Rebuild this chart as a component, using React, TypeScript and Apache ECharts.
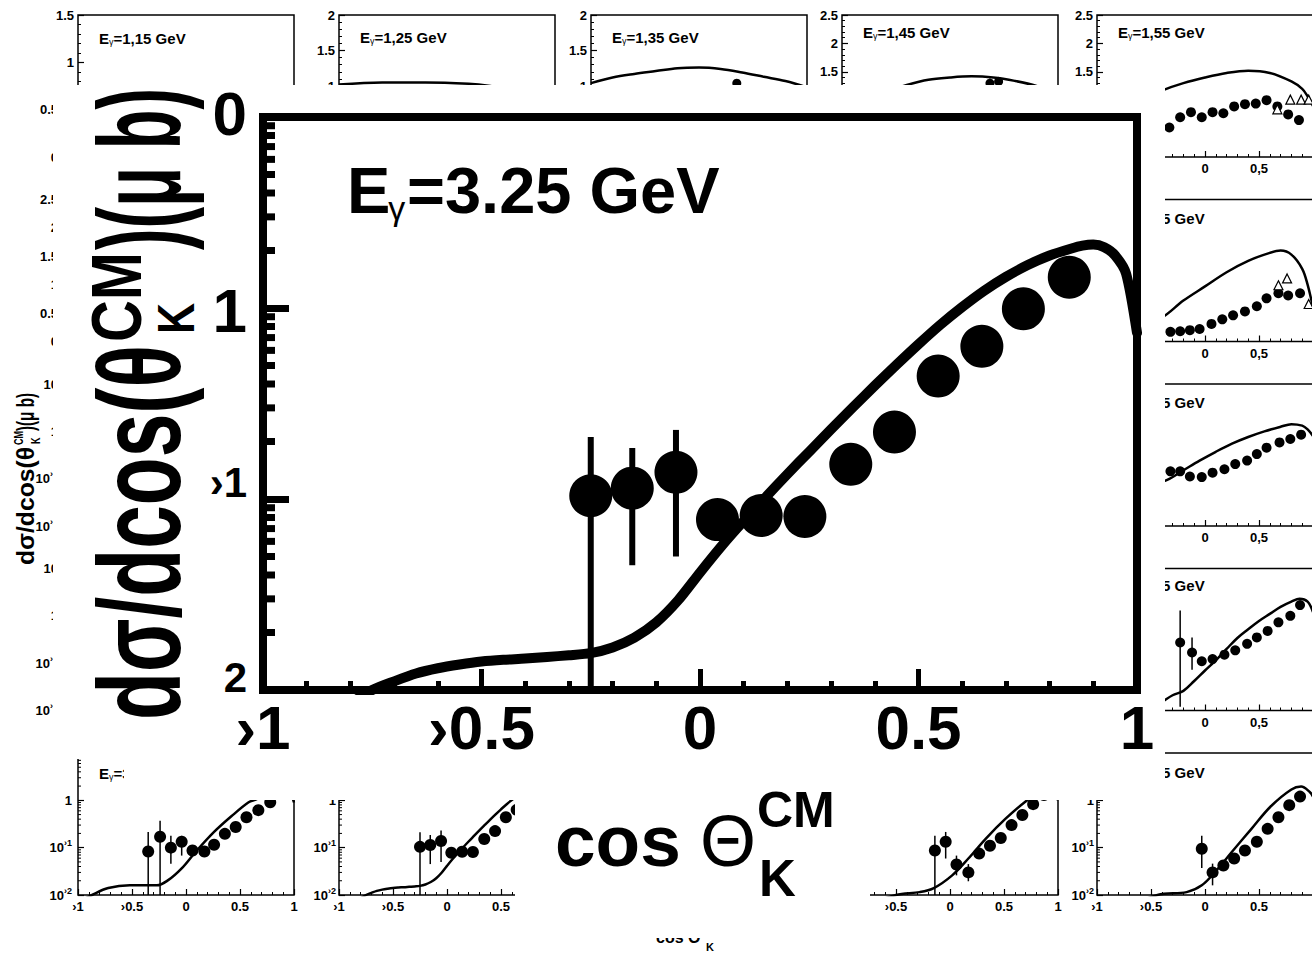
import React, { useEffect, useRef } from "react";
import * as echarts from "echarts";

const FF = "'Liberation Sans', Arial, Helvetica, sans-serif";

/* ================= Main (zoomed) panel : E_gamma = 3.25 GeV ================= */
const mainXTickLabels = ["›1", "›0.5", "0", "0.5", "1"];
const mainYTickLabels = ["2", "›1", "1", "0"]; // visible parts of labels at 0.01, 0.1, 1, 10
const mainTitle = ["E", "γ", "=3.25 GeV"];
const mainYTitle = ["dσ/dcos(θ", "CM", "K", ")(μ b)"];
const mainXTitle = ["cos", "Θ", "CM", "K"];

const mainPointCos = [-0.25, -0.155, -0.055, 0.04, 0.14, 0.24, 0.345, 0.445, 0.545, 0.645, 0.74, 0.845];
const mainPointVal = [0.104, 0.114, 0.138, 0.078, 0.082, 0.081, 0.152, 0.224, 0.44, 0.63, 0.99, 1.45];
const mainErrLow = [0.01, 0.045, 0.05, 0.062, 0.064, 0.074, 0.142, 0.212, 0.42, 0.61, 0.96, 1.41];
const mainErrHigh = [0.211, 0.185, 0.23, 0.097, 0.104, 0.089, 0.163, 0.236, 0.46, 0.65, 1.02, 1.49];

const mainCurveCos = [
  -0.8, -0.75, -0.7, -0.65, -0.6, -0.55, -0.5, -0.45, -0.4, -0.35, -0.3, -0.25, -0.2, -0.15, -0.1, -0.05,
  0, 0.05, 0.1, 0.15, 0.2, 0.25, 0.3, 0.35, 0.4, 0.45, 0.5, 0.55, 0.6, 0.65, 0.7, 0.75, 0.8, 0.85,
  0.875, 0.9, 0.925, 0.95, 0.975, 1,
];
const mainCurveVal = [
  0.0085, 0.01, 0.0111, 0.0122, 0.013, 0.0136, 0.0141, 0.0144, 0.0146, 0.0149, 0.0152, 0.0156, 0.0167, 0.0188,
  0.0226, 0.0295, 0.0412, 0.0569, 0.0767, 0.102, 0.135, 0.177, 0.232, 0.302, 0.392, 0.505, 0.646, 0.817, 1.012,
  1.23, 1.455, 1.679, 1.884, 2.05, 2.12, 2.148, 2.08, 1.884, 1.514, 0.741,
];

const logMinorTickValues = [
  0.02, 0.03, 0.04, 0.05, 0.06, 0.07, 0.08, 0.09, 0.2, 0.3, 0.4, 0.5, 0.6, 0.7, 0.8, 0.9, 2, 3, 4, 5, 6, 7, 8, 9,
];

/* ================= Background small panels ================= */
const xLabelsComma = ["›1", "›0,5", "0", "0,5", "1"];
const xLabelsDot = ["›1", "›0.5", "0", "0.5", "1"];
const linYLabels = ["0", "0.5", "1", "1.5", "2", "2.5"];
const logYBase = ["10", "10", "1", "10"];
const logYSup = ["›2", "›1", "", ""];

const curve115 = [[-1, 0.4], [-0.6, 0.52], [-0.2, 0.6], [0.2, 0.64], [0.6, 0.62], [1, 0.5]];
const curve125 = [[-1, 1.02], [-0.6, 1.05], [-0.2, 1.05], [0.2, 1.03], [0.4, 1.0], [0.6, 0.95], [0.8, 0.88], [1, 0.8]];
const curve135 = [[-1, 1.04], [-0.8, 1.12], [-0.6, 1.17], [-0.4, 1.21], [-0.2, 1.25], [0, 1.26], [0.2, 1.24], [0.4, 1.19], [0.6, 1.13], [0.8, 1.07], [1, 0.98]];
const points135 = [[0.35, 1.04]];
const err135 = [[0.35, 0.99, 1.09]];
const curve145 = [[-1, 0.9], [-0.6, 1.15], [-0.4, 1.27], [-0.2, 1.36], [0, 1.4], [0.2, 1.42], [0.4, 1.4], [0.6, 1.34], [0.8, 1.25], [1, 1.1]];
const points145 = [[0.37, 1.3], [0.45, 1.33]];
const err145 = [[0.37, 1.22, 1.38], [0.45, 1.25, 1.41]];
const curve155 = [[-1, 0.7], [-0.8, 0.85], [-0.6, 1.0], [-0.4, 1.17], [-0.2, 1.3], [0, 1.4], [0.2, 1.48], [0.4, 1.52], [0.6, 1.48], [0.8, 1.33], [0.9, 1.2], [0.95, 1.07], [1, 0.9]];
const points155 = [[-0.33, 0.52], [-0.23, 0.7], [-0.13, 0.79], [-0.03, 0.7], [0.07, 0.79], [0.17, 0.77], [0.27, 0.89], [0.37, 0.93], [0.47, 0.94], [0.57, 1.0], [0.67, 0.89], [0.77, 0.75], [0.87, 0.65]];
const opens155 = [[0.67, 0.84], [0.79, 1.01], [0.89, 1.01], [0.96, 1.01]];

const curve205 = [[-1, 0.1], [-0.6, 0.28], [-0.4, 0.42], [-0.2, 0.72], [0, 0.97], [0.2, 1.22], [0.4, 1.42], [0.6, 1.56], [0.7, 1.6], [0.8, 1.53], [0.9, 1.28], [0.95, 1.0], [1, 0.6]];
const points205 = [[-0.32, 0.17], [-0.23, 0.18], [-0.14, 0.2], [-0.05, 0.22], [0.06, 0.31], [0.16, 0.39], [0.26, 0.46], [0.37, 0.53], [0.48, 0.62], [0.57, 0.76], [0.68, 0.85], [0.77, 0.81], [0.88, 0.85]];
const opens205 = [[0.68, 0.99], [0.76, 1.11], [0.96, 0.66]];

const curve255 = [[-1, 0.02], [-0.7, 0.04], [-0.5, 0.07], [-0.35, 0.094], [-0.2, 0.15], [-0.05, 0.24], [0.1, 0.37], [0.25, 0.55], [0.4, 0.76], [0.55, 1.0], [0.7, 1.25], [0.8, 1.42], [0.9, 1.32], [0.95, 1.1], [1, 0.8]];
const points255 = [[-0.32, 0.143], [-0.23, 0.143], [-0.14, 0.111], [-0.03, 0.108], [0.07, 0.134], [0.18, 0.158], [0.28, 0.203], [0.39, 0.241], [0.48, 0.331], [0.57, 0.452], [0.69, 0.583], [0.79, 0.69], [0.89, 0.852]];

const curve305 = [[-1, 0.004], [-0.6, 0.008], [-0.4, 0.015], [-0.3, 0.021], [-0.2, 0.026], [-0.1, 0.042], [0, 0.07], [0.1, 0.115], [0.2, 0.2], [0.3, 0.34], [0.4, 0.52], [0.5, 0.78], [0.6, 1.1], [0.7, 1.55], [0.8, 2.0], [0.875, 2.3], [0.95, 2.0], [1, 1.2]];
const points305 = [[-0.23, 0.273], [-0.12, 0.168], [-0.03, 0.11], [0.07, 0.122], [0.18, 0.151], [0.28, 0.187], [0.39, 0.256], [0.48, 0.35], [0.58, 0.48], [0.68, 0.73], [0.79, 1.0], [0.88, 1.69]];
const err305 = [[-0.23, 0.012, 1.3], [-0.12, 0.073, 0.35]];

const curve315 = [[-1, 0.007], [-0.87, 0.01], [-0.72, 0.014], [-0.52, 0.016], [-0.27, 0.016], [-0.165, 0.0206], [-0.04, 0.0365], [0.09, 0.082], [0.26, 0.215], [0.42, 0.46], [0.58, 0.91], [0.65, 1.05], [0.75, 1.4], [0.85, 1.8], [0.9, 1.9], [0.95, 1.7], [1, 0.9]];
const points315 = [[-0.35, 0.083], [-0.24, 0.17], [-0.14, 0.1], [-0.04, 0.133], [0.06, 0.087], [0.17, 0.083], [0.26, 0.115], [0.36, 0.196], [0.46, 0.274], [0.56, 0.44], [0.67, 0.62], [0.78, 0.91]];
const err315 = [[-0.35, 0.01, 0.215], [-0.24, 0.01, 0.37], [-0.14, 0.046, 0.178], [-0.04, 0.068, 0.178]];

const curve345 = [[-1, 0.004], [-0.5, 0.01], [-0.28, 0.0115], [-0.15, 0.014], [0.02, 0.026], [0.17, 0.059], [0.33, 0.154], [0.51, 0.4], [0.7, 0.95], [0.85, 1.6], [0.92, 1.8], [1, 1.0]];
const points345 = [[-0.14, 0.087], [-0.04, 0.133], [0.06, 0.044], [0.17, 0.03], [0.27, 0.075], [0.37, 0.11], [0.47, 0.16], [0.57, 0.3], [0.67, 0.49], [0.77, 0.83], [0.87, 1.3]];
const err345 = [[-0.14, 0.01, 0.178], [-0.04, 0.059, 0.215], [0.06, 0.026, 0.068], [0.17, 0.0195, 0.045]];

const curve355 = [[-1, 0.003], [-0.44, 0.01], [-0.17, 0.0115], [-0.03, 0.016], [0.1, 0.032], [0.25, 0.082], [0.43, 0.25], [0.61, 0.75], [0.8, 1.7], [0.89, 1.95], [0.97, 1.5], [1, 1.2]];
const points355 = [[-0.03, 0.095], [0.07, 0.03], [0.17, 0.042], [0.27, 0.059], [0.37, 0.087], [0.48, 0.133], [0.58, 0.25], [0.68, 0.44], [0.78, 0.79], [0.88, 1.2]];
const err355 = [[-0.03, 0.037, 0.178], [0.07, 0.016, 0.046]];

const smallYTitle = ["dσ/dcos(θ", "CM", "K", ")(μ b)"];
const smallXTitle = ["cos Θ", "K"];

/* ---------- layout ---------- */
const COL_LEFT = [78, 339, 591, 842, 1097];
const rowTop = (r: number) => 15 + 184.5 * r;
const PW = 216;
const PH = 142;

const mainPairs = mainPointCos.map((c, i) => [c, mainPointVal[i]]);
const mainErrs = mainPointCos.map((c, i) => [c, mainErrLow[i], mainErrHigh[i]]);
const mainCurve = mainCurveCos.map((c, i) => [c, mainCurveVal[i]]);

// xl: show x labels; xPos: only labels >= 0; ym: y label margin; yFrom: hide y labels below
const panels: any[] = [
  { row: 0, col: 0, e: "1,15", log: false, yMax: 1.5, curve: curve115, pts: [], errs: [], opens: [], ps: 9, tdy: 23, xl: false, ym: 4, shiftLow: true, title: true },
  { row: 0, col: 1, e: "1,25", log: false, yMax: 2, curve: curve125, pts: [], errs: [], opens: [], ps: 9, tdy: 22, xl: false, ym: 4, yFrom: 1, title: true },
  { row: 0, col: 2, e: "1,35", log: false, yMax: 2, curve: curve135, pts: points135, errs: err135, opens: [], ps: 9, tdy: 22, xl: false, ym: 4, yFrom: 1, title: true },
  { row: 0, col: 3, e: "1,45", log: false, yMax: 2.5, curve: curve145, pts: points145, errs: err145, opens: [], ps: 9, tdy: 17, xl: false, ym: 4, yFrom: 1.5, title: true },
  { row: 0, col: 4, e: "1,55", log: false, yMax: 2.5, curve: curve155, pts: points155, errs: [], opens: opens155, ps: 10, tdy: 17, xl: true, xPos: true, ym: 4, yFrom: 1.5, title: true },
  { row: 1, col: 0, e: "1,65", log: false, yMax: 2.5, curve: [], pts: [], errs: [], opens: [], ps: 9, tdy: 19, xl: false, ym: 20, title: false },
  { row: 1, col: 4, e: "2,05", log: false, yMax: 2.5, curve: curve205, pts: points205, errs: [], opens: opens205, ps: 10, tdy: 19, xl: true, xPos: true, ym: 4, noY: true, title: true },
  { row: 2, col: 0, e: "2,15", log: true, curve: [], pts: [], errs: [], opens: [], ps: 9, tdy: 19, xl: false, ym: 20, title: false },
  { row: 2, col: 4, e: "2,55", log: true, curve: curve255, pts: points255, errs: [], opens: [], ps: 10, tdy: 18, xl: true, xPos: true, ym: 4, noY: true, title: true },
  { row: 3, col: 0, e: "2,65", log: true, curve: [], pts: [], errs: [], opens: [], ps: 9, tdy: 19, xl: false, ym: 20, title: false },
  { row: 3, col: 4, e: "3,05", log: true, curve: curve305, pts: points305, errs: err305, opens: [], ps: 10, tdy: 17, xl: true, xPos: true, ym: 4, noY: true, title: true },
  { row: 4, col: 0, e: "3,15", log: true, curve: curve315, pts: points315, errs: err315, opens: [], ps: 12, tdy: 20, dot: true, xl: true, ym: 6, title: true },
  { row: 4, col: 1, e: "3,25", log: true, curve: mainCurve, pts: mainPairs, errs: mainErrs, opens: [], ps: 12, tdy: 20, dot: true, xl: true, ym: 3, title: false },
  { row: 4, col: 3, e: "3,45", log: true, curve: curve345, pts: points345, errs: err345, opens: [], ps: 12, tdy: 20, dot: true, xl: true, ym: 3, title: false, noY: true },
  { row: 4, col: 4, e: "3,55", log: true, curve: curve355, pts: points355, errs: err355, opens: [], ps: 12, tdy: 19, dot: true, xl: true, ym: 3, title: true },
];

let measureCtx: any = null;
function measure(text: string, size: number, bold: boolean) {
  if (!measureCtx) measureCtx = document.createElement("canvas").getContext("2d");
  measureCtx.font = `${bold ? "bold " : ""}${size}px ${FF}`;
  return measureCtx.measureText(text).width || text.length * size * 0.55;
}

function errSeries(ai: number, data: number[][], w: number, z: number) {
  return {
    type: "custom",
    xAxisIndex: ai,
    yAxisIndex: ai,
    z,
    silent: true,
    data,
    encode: { x: 0, y: [1, 2] },
    renderItem: (_p: any, api: any) => {
      const a = api.coord([api.value(0), api.value(1)]);
      const b = api.coord([api.value(0), api.value(2)]);
      return {
        type: "line",
        shape: { x1: a[0], y1: a[1], x2: b[0], y2: b[1] },
        style: { stroke: "#000", lineWidth: w },
      };
    },
  };
}

function logMinorSeries(ai: number, len: number, w: number, z: number) {
  return {
    type: "custom",
    xAxisIndex: ai,
    yAxisIndex: ai,
    z,
    silent: true,
    data: logMinorTickValues.map((v) => [-1, v]),
    encode: { x: 0, y: 1 },
    renderItem: (_p: any, api: any) => {
      const c = api.coord([-1, api.value(1)]);
      return {
        type: "line",
        shape: { x1: c[0], y1: c[1], x2: c[0] + len, y2: c[1] },
        style: { stroke: "#000", lineWidth: w },
      };
    },
  };
}

function txt(x: number, y: number, text: string, size: number, bold: boolean, z: number, extra: any = {}) {
  return {
    type: "text",
    x,
    y,
    z,
    silent: true,
    ...extra,
    style: {
      text,
      fontSize: size,
      fontWeight: bold ? "bold" : "normal",
      fontFamily: FF,
      fill: "#000",
      align: "left",
      verticalAlign: "middle",
    },
  };
}

// rotated title: parts [main, sup, sub, tail]; u = distance along text (upwards)
function rotatedTitle(gx: number, gy: number, parts: string[], cfg: any, z: number) {
  const w1 = measure(parts[0], cfg.f1, true);
  const wS = measure(parts[1], cfg.fs, true);
  const w4 = measure(parts[3], cfg.f1, true);
  const s1 = cfg.len1 / w1;
  const sS = Math.min(1, cfg.lenS / wS);
  const s4 = cfg.len4 / w4;
  return {
    type: "group",
    x: gx,
    y: gy,
    rotation: Math.PI / 2,
    z,
    children: [
      txt(0, cfg.v1, parts[0], cfg.f1, true, z, { scaleX: s1 }),
      txt(cfg.len1 + cfg.gap, cfg.vSup, parts[1], cfg.fs, true, z, { scaleX: sS }),
      txt(cfg.len1 + cfg.gap + cfg.subDx, cfg.vSub, parts[2], cfg.fk, true, z, { scaleX: sS }),
      txt(cfg.u4, cfg.v1, parts[3], cfg.f1, true, z, { scaleX: s4 }),
    ],
  };
}

function buildOption() {
  const grid: any[] = [];
  const xAxis: any[] = [];
  const yAxis: any[] = [];
  const series: any[] = [];
  const graphic: any[] = [];

  const bgLabel = { color: "#000", fontFamily: FF, fontWeight: "bold", fontSize: 13 };
  const bgTick = { show: true, inside: true, length: 6, lineStyle: { color: "#000", width: 1.2 } };
  const bgMinor = { show: true, splitNumber: 5, length: 3, lineStyle: { color: "#000", width: 1 } };

  panels.forEach((p, i) => {
    const left = COL_LEFT[p.col];
    const top = rowTop(p.row);
    grid.push({
      left,
      top,
      width: PW,
      height: PH,
      show: true,
      borderColor: "#000",
      borderWidth: 1.5,
      backgroundColor: "transparent",
      z: 2,
      outerBoundsMode: "none",
    });
    const xl = p.dot ? xLabelsDot : xLabelsComma;
    xAxis.push({
      gridIndex: i,
      type: "value",
      min: -1,
      max: 1,
      interval: 0.5,
      z: 2,
      axisLine: { show: false, onZero: false },
      splitLine: { show: false },
      axisTick: bgTick,
      minorTick: bgMinor,
      axisLabel: {
        ...bgLabel,
        show: p.xl,
        margin: 5,
        showMinLabel: true,
        showMaxLabel: p.col !== 4,
        formatter: (v: number) => (p.xPos && v < 0 ? "" : xl[Math.round((v + 1) / 0.5)]),
      },
    });
    if (p.log) {
      yAxis.push({
        gridIndex: i,
        type: "log",
        logBase: 10,
        min: 0.01,
        max: 10,
        z: 2,
        axisLine: { show: false, onZero: false },
        splitLine: { show: false },
        axisTick: bgTick,
        minorTick: { show: false },
        axisLabel: {
          ...bgLabel,
          show: !p.noY,
          margin: p.ym,
          showMinLabel: true,
          showMaxLabel: true,
          formatter: (v: number) => {
            const k = Math.round(Math.log10(v)) + 2;
            return logYSup[k] ? `{b|${logYBase[k]}}{s|${logYSup[k]}}` : `{b|${logYBase[k]}}`;
          },
          rich: {
            b: { ...bgLabel },
            s: { ...bgLabel, fontSize: 9, padding: [0, 0, 9, 0] },
          },
        },
      });
      series.push(logMinorSeries(i, 3, 1, 3));
    } else {
      yAxis.push({
        gridIndex: i,
        type: "value",
        min: 0,
        max: p.yMax,
        interval: 0.5,
        z: 2,
        axisLine: { show: false, onZero: false },
        splitLine: { show: false },
        axisTick: bgTick,
        minorTick: bgMinor,
        axisLabel: {
          ...bgLabel,
          show: !p.noY,
          margin: p.ym,
          showMinLabel: true,
          showMaxLabel: true,
          formatter: (v: number) => {
            if (p.yFrom !== undefined && v < p.yFrom - 1e-9) return "";
            const t = linYLabels[Math.round(v / 0.5)];
            return p.shiftLow && v < 0.75 ? `{sh|${t}}` : `{n|${t}}`;
          },
          rich: {
            n: { ...bgLabel },
            sh: { ...bgLabel, padding: [0, 16, 0, 0] },
          },
        },
      });
    }
    if (p.curve.length) {
      series.push({
        type: "line",
        xAxisIndex: i,
        yAxisIndex: i,
        data: p.curve,
        symbol: "none",
        smooth: 0.35,
        clip: true,
        z: 3,
        silent: true,
        lineStyle: { color: "#000", width: 2.5 },
      });
    }
    if (p.errs.length) series.push(errSeries(i, p.errs, 1.5, 4));
    if (p.pts.length) {
      series.push({
        type: "scatter",
        xAxisIndex: i,
        yAxisIndex: i,
        data: p.pts,
        symbol: "circle",
        symbolSize: p.ps,
        z: 5,
        silent: true,
        itemStyle: { color: "#000", opacity: 1 },
      });
    }
    if (p.opens.length) {
      series.push({
        type: "scatter",
        xAxisIndex: i,
        yAxisIndex: i,
        data: p.opens,
        symbol: "triangle",
        symbolSize: 9,
        z: 6,
        silent: true,
        itemStyle: { color: "#fff", borderColor: "#000", borderWidth: 1.2, opacity: 1 },
      });
    }
    if (p.title) {
      graphic.push({
        type: "text",
        x: left + 21,
        y: top + p.tdy,
        z: 5,
        silent: true,
        style: {
          text: `{e|E}{g|γ}{r|=${p.e} GeV}`,
          align: "left",
          verticalAlign: "middle",
          rich: {
            e: { fontSize: 15, fontWeight: "bold", fontFamily: FF, fill: "#000" },
            g: { fontSize: 9, fontFamily: FF, fill: "#000", padding: [8, 0, 0, 0] },
            r: { fontSize: 15, fontWeight: "bold", fontFamily: FF, fill: "#000" },
          },
        },
      });
    }
  });

  /* small rotated y title of the background figure */
  graphic.push(
    rotatedTitle(
      34,
      565,
      smallYTitle,
      { f1: 24, fs: 12, fk: 12, v1: -8, vSup: -16, vSub: 1, len1: 118, lenS: 14, gap: 2, subDx: 1, u4: 134, len4: 38 },
      5
    )
  );
  /* small x title of the background figure (mostly hidden) */
  graphic.push(txt(656, 937, smallXTitle[0], 16, true, 5));
  graphic.push(txt(706, 947, smallXTitle[1], 11, true, 5));

  /* white overlay of the enlarged panel */
  graphic.push({
    type: "polygon",
    z: 50,
    silent: true,
    shape: {
      points: [
        [53, 85],
        [1165, 85],
        [1165, 800],
        [870, 800],
        [870, 938],
        [515, 938],
        [515, 800],
        [124, 800],
        [124, 759],
        [53, 759],
      ],
    },
    style: { fill: "#fff" },
  });

  /* ---------------- main panel ---------------- */
  const M = panels.length;
  grid.push({
    left: 263,
    top: 117,
    width: 874,
    height: 573,
    show: true,
    borderColor: "#000",
    borderWidth: 8,
    backgroundColor: "transparent",
    z: 60,
    outerBoundsMode: "none",
  });
  const bigLabel = { color: "#000", fontFamily: FF, fontWeight: "bold", fontSize: 62 };
  xAxis.push({
    gridIndex: M,
    type: "value",
    min: -1,
    max: 1,
    interval: 0.5,
    z: 60,
    axisLine: { show: false, onZero: false },
    splitLine: { show: false },
    axisTick: { show: true, inside: true, length: 21, lineStyle: { color: "#000", width: 5 } },
    minorTick: { show: true, splitNumber: 5, length: 9, lineStyle: { color: "#000", width: 5 } },
    axisLabel: {
      ...bigLabel,
      margin: 6,
      showMinLabel: true,
      showMaxLabel: true,
      formatter: (v: number) => mainXTickLabels[Math.round((v + 1) / 0.5)],
    },
  });
  yAxis.push({
    gridIndex: M,
    type: "log",
    logBase: 10,
    min: 0.01,
    max: 10,
    z: 60,
    axisLine: { show: false, onZero: false },
    splitLine: { show: false },
    axisTick: { show: true, inside: true, length: 26, lineStyle: { color: "#000", width: 7 } },
    minorTick: { show: false },
    axisLabel: {
      ...bigLabel,
      margin: 16,
      showMinLabel: true,
      showMaxLabel: true,
      formatter: (v: number) => {
        const k = Math.round(Math.log10(v)) + 2;
        const st = k === 0 ? "s2" : k === 1 ? "s1" : k === 3 ? "t" : "n";
        return `{${st}|${mainYTickLabels[k]}}`;
      },
      rich: {
        n: { ...bigLabel, padding: [4, 0, 0, 0] },
        t: { ...bigLabel, padding: [0, 0, 8, 0] },
        s1: { ...bigLabel, fontSize: 42, padding: [0, 0, 34, 0] },
        s2: { ...bigLabel, fontSize: 42, padding: [0, 0, 26, 0] },
      },
    },
  });
  series.push(logMinorSeries(M, 12, 7, 61));
  series.push({
    type: "line",
    xAxisIndex: M,
    yAxisIndex: M,
    data: mainCurve,
    symbol: "none",
    smooth: 0.25,
    clip: true,
    z: 62,
    silent: true,
    lineStyle: { color: "#000", width: 10, join: "round", cap: "round" },
  });
  series.push(errSeries(M, mainErrs, 6, 63));
  series.push({
    type: "scatter",
    xAxisIndex: M,
    yAxisIndex: M,
    data: mainPairs,
    symbol: "circle",
    symbolSize: 43,
    z: 64,
    silent: true,
    itemStyle: { color: "#000", opacity: 1 },
  });

  /* main title */
  const eW = measure(mainTitle[0], 65, true);
  graphic.push(txt(347, 190, mainTitle[0], 65, true, 70));
  graphic.push(txt(347 + eW - 2, 208, mainTitle[1], 34, false, 70));
  graphic.push(txt(407, 190, mainTitle[2], 65, true, 70));

  /* main y title (rotated) */
  graphic.push(
    rotatedTitle(
      180,
      720,
      mainYTitle,
      { f1: 116, fs: 70, fk: 52, v1: -40, vSup: -63, vSub: -4, len1: 375, lenS: 90, gap: 3, subDx: 8, u4: 470, len4: 162 },
      70
    )
  );

  /* main x title */
  graphic.push(txt(555, 840, mainXTitle[0], 73, true, 70));
  graphic.push(txt(700, 841, mainXTitle[1], 72, false, 70));
  graphic.push(txt(757, 810, mainXTitle[2], 50, true, 70));
  graphic.push(txt(759, 878, mainXTitle[3], 51, true, 70));

  return {
    animation: false,
    backgroundColor: "#fff",
    textStyle: { fontFamily: FF },
    grid,
    xAxis,
    yAxis,
    series,
    graphic,
  };
}

export default function App() {
  const ref = useRef<HTMLDivElement>(null);
  useEffect(() => {
    if (!ref.current) return;
    const chart = echarts.init(ref.current, undefined, { renderer: "svg" });
    chart.setOption(buildOption() as any);
    return () => chart.dispose();
  }, []);
  return (
    <div
      ref={ref}
      style={{ position: "absolute", left: 0, top: 0, width: 1312, height: 953, background: "#fff" }}
    />
  );
}
